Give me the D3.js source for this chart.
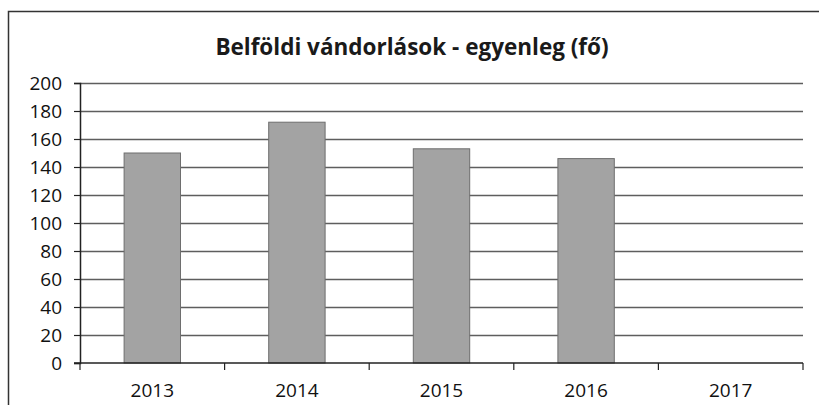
<!DOCTYPE html>
<html>
<head>
<meta charset="utf-8">
<script src="https://cdn.jsdelivr.net/npm/d3@7"></script>
<style>
  body { margin: 0; background: #fff; }
  text { font-family: "Open Sans", "DejaVu Sans", sans-serif; }
</style>
</head>
<body>
<div id="graph"></div>
<script>
//data
var title = "Belföldi vándorlások - egyenleg (fő)";
var years = ["2013", "2014", "2015", "2016", "2017"];
var values = [150, 172, 153, 146, null];
var yTicks = [0, 20, 40, 60, 80, 100, 120, 140, 160, 180, 200];

//measurements
var width = 819;
var height = 405;
var margin = { top: 83, right: 16, bottom: 42, left: 80 };
var chartWidth = width - margin.left - margin.right;
var chartHeight = height - margin.top - margin.bottom;

var svg = d3.select("#graph").append("svg")
    .attr("width", width)
    .attr("height", height);

// outer frame (cut off at right / bottom)
svg.append("path")
    .attr("d", "M8.5," + height + " V11.5 H" + width)
    .attr("fill", "none")
    .attr("stroke", "#333")
    .attr("stroke-width", 1.5);

svg.append("text")
    .attr("x", 412)
    .attr("y", 55)
    .attr("text-anchor", "middle")
    .style("font-size", "22.5px")
    .style("font-weight", "bold")
    .attr("fill", "#1a1a1a")
    .text(title);

var plot = svg.append("g")
    .attr("transform", "translate(" + margin.left + "," + margin.top + ")");

var x = d3.scaleBand()
    .domain(years)
    .range([0, chartWidth])
    .paddingInner(0.61)
    .paddingOuter(0.305);

var y = d3.scaleLinear()
    .domain([0, 200])
    .range([chartHeight, 0]);

// gridlines
plot.selectAll(".grid")
    .data(yTicks.slice(1))
    .enter().append("line")
    .attr("class", "grid")
    .attr("x1", 0)
    .attr("x2", chartWidth)
    .attr("y1", function (d) { return Math.round(y(d)) + 0.5; })
    .attr("y2", function (d) { return Math.round(y(d)) + 0.5; })
    .attr("stroke", "#5e5e5e")
    .attr("stroke-width", 1.3);

// bars
plot.selectAll(".bar")
    .data(values.map(function (v, i) { return { year: years[i], value: v }; })
        .filter(function (d) { return d.value != null; }))
    .enter().append("rect")
    .attr("class", "bar")
    .attr("x", function (d) { return x(d.year); })
    .attr("y", function (d) { return y(d.value); })
    .attr("width", x.bandwidth())
    .attr("height", function (d) { return chartHeight - y(d.value); })
    .attr("fill", "#a3a3a3")
    .attr("stroke", "#6e6e6e")
    .attr("stroke-width", 1);

// y axis
var yAxis = d3.axisLeft(y)
    .tickValues(yTicks)
    .tickSize(6)
    .tickPadding(12);
var yg = plot.append("g").call(yAxis);
yg.select(".domain").attr("stroke", "#222").attr("stroke-width", 1.5);
yg.selectAll(".tick line").attr("stroke", "#222").attr("stroke-width", 1.2);
yg.selectAll(".tick text")
    .style("font-size", "19px")
    .attr("fill", "#111");

// x axis with ticks at category boundaries
var boundary = d3.scaleLinear().domain([0, years.length]).range([0, chartWidth]);
var xg = plot.append("g").attr("transform", "translate(0," + chartHeight + ")");
xg.append("line")
    .attr("x1", -6).attr("x2", chartWidth)
    .attr("y1", 0).attr("y2", 0)
    .attr("stroke", "#222").attr("stroke-width", 1.5);
xg.selectAll(".xtick")
    .data(d3.range(years.length + 1))
    .enter().append("line")
    .attr("class", "xtick")
    .attr("x1", function (d) { return boundary(d); })
    .attr("x2", function (d) { return boundary(d); })
    .attr("y1", 0).attr("y2", 7)
    .attr("stroke", "#222").attr("stroke-width", 1.2);
xg.selectAll(".xlabel")
    .data(years)
    .enter().append("text")
    .attr("class", "xlabel")
    .attr("x", function (d) { return x(d) + x.bandwidth() / 2; })
    .attr("y", 34)
    .attr("text-anchor", "middle")
    .style("font-size", "19px")
    .attr("fill", "#111")
    .text(function (d) { return d; });
</script>
</body>
</html>
